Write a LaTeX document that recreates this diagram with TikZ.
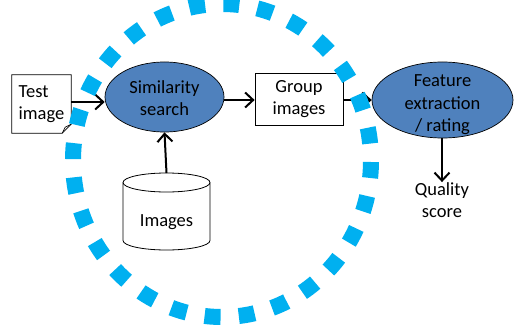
\documentclass[tikz,border=0pt]{standalone}
\usepackage{fontspec}
\setmainfont{Carlito}
\usetikzlibrary{shapes.geometric,arrows.meta}

\definecolor{ovalblue}{HTML}{4F81BD}
\definecolor{ringblue}{HTML}{00B0F0}

\tikzset{
  label text/.style={align=center, font=\fontsize{18.5}{22.5}\selectfont, inner sep=0pt},
  oval/.style={ellipse, draw=black, fill=ovalblue, line width=0.7pt},
  plainbox/.style={label text, draw=black, line width=0.8pt},
  flow/.style={line width=2pt, -{Straight Barb[length=8pt, width=15pt, line width=2pt]}},
}

\begin{document}
\begin{tikzpicture}[x=1pt, y=-1pt]
  \useasboundingbox (0,0) rectangle (516,326);

  % the query picture, a page with a folded corner
  \node (test) [label text, align=left, minimum width=59pt, minimum height=58pt] at (41.5,104) {Test\\image};
  \draw[line width=0.8pt] (test.north west) -- (test.north east)
    -- ([yshift=9pt]test.south east) -- ([xshift=-9pt]test.south east)
    -- (test.south west) -- cycle;
  \draw[line width=0.7pt] ([yshift=9pt]test.south east) -- ([xshift=-6pt,yshift=6pt]test.south east)
    -- ([xshift=-9pt]test.south east);

  \node (search) [oval, minimum width=119pt, minimum height=70pt] at (164.5,97) {};
  \node (searchtext) [label text] at ([yshift=-1pt]search.center) {Similarity\\search};
  \node (group) [plainbox, minimum width=88pt, minimum height=52pt] at (299,99) {Group\\images};
  \node (feature) [oval, minimum width=141pt, minimum height=76pt] at (442.5,100) {};
  \node (featuretext) [label text] at ([yshift=-5pt]feature.center) {Feature\\extraction\\/ rating};
  \node (score) [label text] at (442,200) {Quality\\score};

  % image store, a drum drawn by hand
  \coordinate (storetop) at (166.5,173);
  \draw[line width=0.8pt] (123,182.5) -- (123,240.5)
    arc[start angle=180, end angle=0, x radius=43.5, y radius=9.5] -- (210,182.5);
  \draw[line width=0.8pt] (166.5,182.5) ellipse [x radius=43.5, y radius=9.5];
  \node (store) [label text] at (166.5,222) {Images};

  \draw[flow] (test.east |- 0,102) -- (search.west |- 0,102);
  \draw[flow] (search.east |- 0,100) -- (group.west |- 0,100);
  \draw[flow] (group.east |- 0,100) -- (feature.west);
  \draw[flow] (storetop) -- (search.south);
  \draw[flow] (feature.south -| 442,0) -- (score.north);

  % dotted ring round the search stage
  \draw[ringblue, line width=16pt, dash pattern=on 16pt off 18.28pt, dash phase=32.78pt]
    (222,160.5) ellipse [x radius=149, y radius=156.5];
\end{tikzpicture}
\end{document}
